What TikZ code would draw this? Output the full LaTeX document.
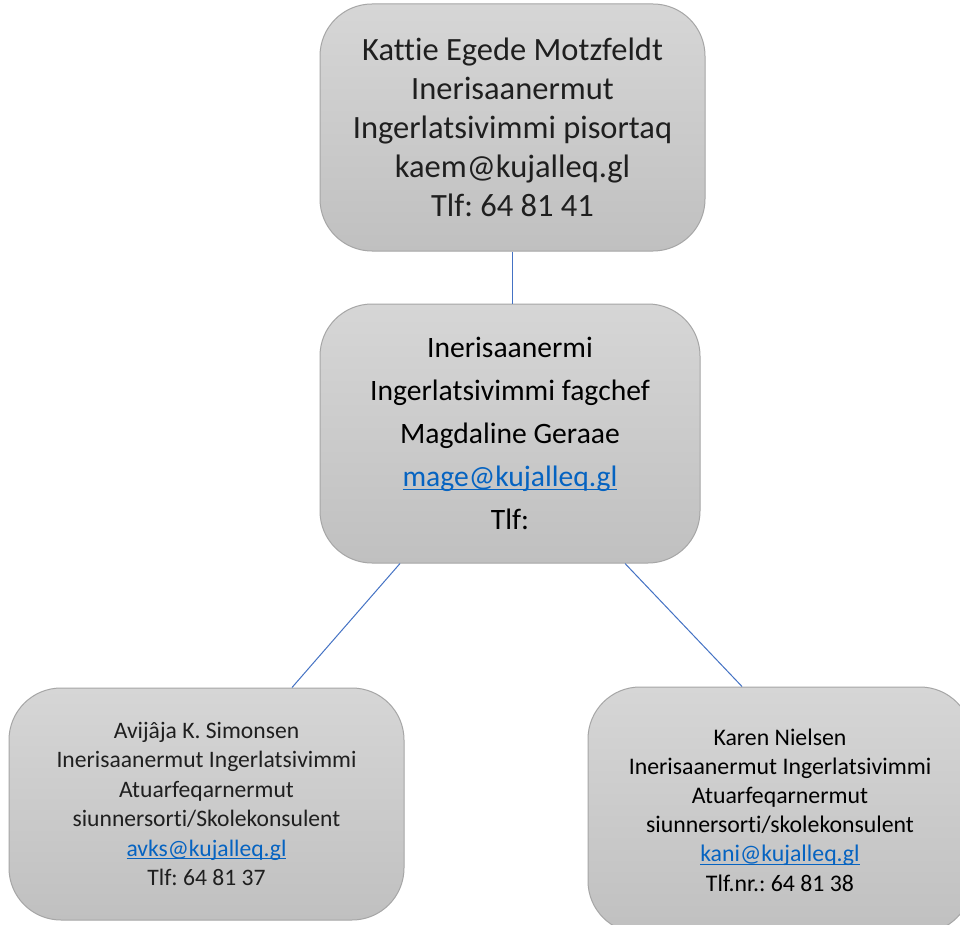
\documentclass[tikz,border=0pt]{standalone}
\usepackage{fontspec}
\setmainfont{Carlito}[RawFeature=-liga]
\frenchspacing
\definecolor{boxtop}{HTML}{D6D6D6}
\definecolor{boxbot}{HTML}{C0C0C0}
\definecolor{boxline}{HTML}{A6A6A6}
\definecolor{conn}{HTML}{4472C4}
\definecolor{link}{HTML}{0563C1}
\definecolor{txt}{HTML}{1F1F1F}
\newsavebox{\mailbox}
\newcommand{\maillink}[1]{\textcolor{link}{\sbox{\mailbox}{#1}\rlap{\rule[-0.13em]{\wd\mailbox}{0.06em}}\usebox{\mailbox}}}
\tikzset{
  orgbox/.style={draw=boxline, line width=1pt, top color=boxtop, bottom color=boxbot,
    rounded corners=52pt, align=center, text=txt, inner sep=0pt},
  connline/.style={draw=conn, line width=1pt}
}
\begin{document}
\begin{tikzpicture}[x=1pt,y=-1pt]
\useasboundingbox (0,0) rectangle (960,925);
\clip (0,0) rectangle (960,925);
\fill[white] (0,0) rectangle (960,925);
\node[orgbox, minimum width=385pt, minimum height=247pt, font=\fontsize{32.5}{39}\selectfont] (top) at (512.5,127.5)
  {Kattie Egede Motzfeldt\\Inerisaanermut\\Ingerlatsivimmi pisortaq\\kaem@kujalleq.gl\\Tlf: 64 81 41};
\node[orgbox, minimum width=380pt, minimum height=259pt, font=\fontsize{29.6}{43}\selectfont, text=black] (mid) at (510,433.5)
  {Inerisaanermi\\Ingerlatsivimmi fagchef\\Magdaline Geraae\\\maillink{mage@kujalleq.gl}\\Tlf:};
\node[orgbox, minimum width=395pt, minimum height=232pt, font=\fontsize{23.6}{29.5}\selectfont] (bl) at (206.5,804)
  {Avijâja K. Simonsen\\Inerisaanermut Ingerlatsivimmi\\Atuarfeqarnermut\\siunnersorti/Skolekonsulent\\\maillink{avks@kujalleq.gl}\\Tlf: 64 81 37};
\node[orgbox, minimum width=384pt, minimum height=246pt, font=\fontsize{23.8}{29.2}\selectfont, text=black] (br) at (780,810)
  {Karen Nielsen\\Inerisaanermut Ingerlatsivimmi\\Atuarfeqarnermut\\siunnersorti/skolekonsulent\\\maillink{kani@kujalleq.gl}\\Tlf.nr.: 64 81 38};
\draw[connline] ([xshift=-0.5pt]top.south) -- ([xshift=-0.5pt]top.south |- mid.north);
\draw[connline] ([xshift=-110pt]mid.south) -- ([xshift=85.5pt]bl.north);
\draw[connline] ([xshift=115pt]mid.south) -- ([xshift=-38pt]br.north);
\end{tikzpicture}
\end{document}
